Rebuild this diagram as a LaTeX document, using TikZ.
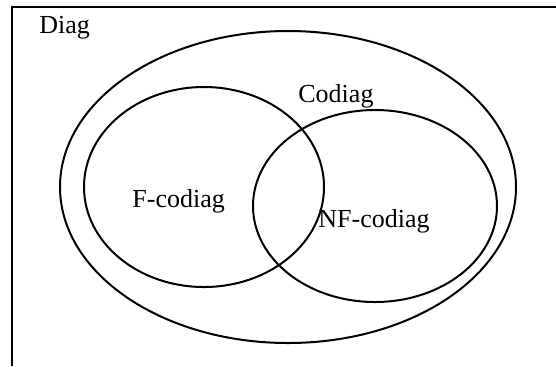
\documentclass[tikz,border=0pt]{standalone}
\usepackage{fontspec}
\setmainfont{Liberation Serif}
\tikzset{
	venn/.style={draw, line width=1pt},
	setname/.style={anchor=base west, inner sep=0pt, font=\fontsize{13}{15}\selectfont}
}

\begin{document}
\begin{tikzpicture}[x=0.5pt, y=-0.5pt]
	\useasboundingbox (0,0) rectangle (556,366);
	% frame, cut at right and bottom
	\draw[line width=1.2pt] (556,7) -- (12,7) -- (12,366);
	\draw[venn] (288,187) ellipse [x radius=228, y radius=156];
	\draw[venn] (204,187) ellipse [x radius=120, y radius=100];
	\draw[venn] (375,206) ellipse [x radius=122, y radius=96];

	\node[setname] (diag) at (39,33) {Diag};
	\node[setname] (codiag) at (298,102) {Codiag};
	\node[setname] (fcodiag) at (132,207) {F-codiag};
	\node[setname] (nfcodiag) at (318,227) {NF-codiag};
\end{tikzpicture}
\end{document}
